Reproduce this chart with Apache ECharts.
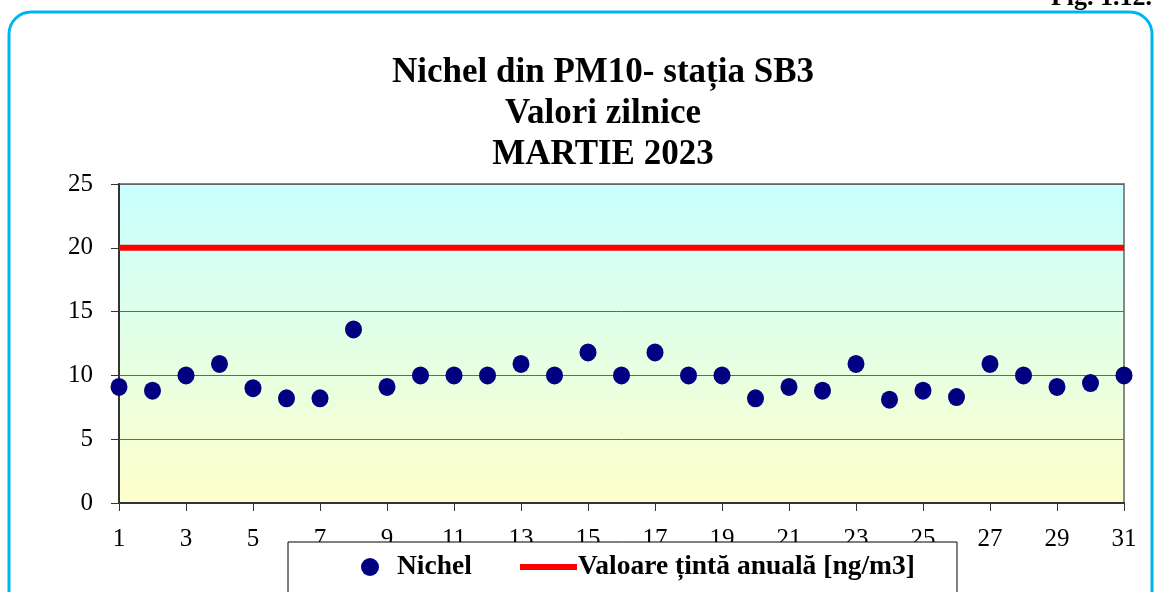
<!DOCTYPE html>
<html>
<head>
<meta charset="utf-8">
<title>Nichel din PM10 - SB3</title>
<script src="https://cdn.jsdelivr.net/npm/echarts@6/dist/echarts.min.js"></script>
<style>
  html, body { margin: 0; padding: 0; background: #fff; }
  #chart { width: 1155px; height: 592px; }
</style>
</head>
<body>
<div id="chart"></div>
<script>
// zilele lunii martie
var days = [];
for (var d = 1; d <= 31; d++) days.push(String(d));

// Nichel, valori zilnice (ng/m3)
var nichel = [9.1, 8.8, 10.0, 10.9, 9.0, 8.2, 8.2, 13.6, 9.1, 10.0,
              10.0, 10.0, 10.9, 10.0, 11.8, 10.0, 11.8, 10.0, 10.0, 8.2,
              9.1, 8.8, 10.9, 8.1, 8.8, 8.3, 10.9, 10.0, 9.1, 9.4, 10.0];

// valoarea tinta anuala
var tinta = days.map(function () { return 20; });

var yTicks = { min: 0, max: 25, interval: 5 };

var font = 'Liberation Serif';

var chart = echarts.init(document.getElementById('chart'));

chart.setOption({
  animation: false,
  backgroundColor: '#fff',
  title: {
    text: 'Nichel din PM10- stația SB3\nValori zilnice\nMARTIE 2023',
    left: 598,
    textAlign: 'center',
    top: 47,
    textStyle: {
      fontFamily: font,
      fontWeight: 'bold',
      fontSize: 35,
      lineHeight: 41,
      color: '#000'
    }
  },
  graphic: [
    {
      type: 'rect',
      shape: { x: 9, y: 12, width: 1143, height: 640, r: 22 },
      style: { fill: 'none', stroke: '#00b4f0', lineWidth: 3 },
      z: 1
    },
    {
      type: 'text',
      x: 1152, y: 11,
      style: {
        text: 'Fig. 1.12.',
        font: 'bold 26px "Liberation Serif"',
        fill: '#000',
        align: 'right',
        verticalAlign: 'bottom'
      },
      z: 1
    },
    {
      type: 'rect',
      shape: { x: 288, y: 542, width: 669, height: 70 },
      style: { fill: '#fff', stroke: '#000', lineWidth: 1 },
      z: 10
    }
  ],
  legend: [
    {
      data: [{ name: 'Nichel', icon: 'circle' }],
      left: 361,
      top: 552,
      padding: 0,
      itemWidth: 18,
      itemHeight: 18,
      z: 20,
      textStyle: {
        fontFamily: font,
        fontWeight: 'bold',
        fontSize: 27.5,
        lineHeight: 30,
        color: '#000',
        padding: [0, 0, 0, 13]
      }
    },
    {
      data: [{ name: 'Valoare țintă anuală [ng/m3]', icon: 'rect' }],
      left: 520,
      top: 552,
      padding: 0,
      itemWidth: 57,
      itemHeight: 6,
      z: 20,
      textStyle: {
        fontFamily: font,
        fontWeight: 'bold',
        fontSize: 27.5,
        lineHeight: 30,
        color: '#000',
        padding: [0, 0, 0, -4]
      }
    }
  ],
  grid: {
    left: 119,
    right: 31,
    top: 184,
    bottom: 89,
    show: true,
    borderColor: '#888',
    borderWidth: 2,
    backgroundColor: new echarts.graphic.LinearGradient(0, 0, 0, 1, [
      { offset: 0, color: '#c8ffff' },
      { offset: 1, color: '#ffffcc' }
    ])
  },
  xAxis: {
    type: 'category',
    data: days,
    boundaryGap: false,
    axisLine: { lineStyle: { color: '#333', width: 2 } },
    axisTick: { show: true, interval: 1, length: 8, lineStyle: { color: '#333' } },
    axisLabel: {
      interval: 1,
      margin: 24,
      fontFamily: font,
      fontSize: 25,
      color: '#000'
    },
    splitLine: { show: false }
  },
  yAxis: {
    type: 'value',
    min: yTicks.min,
    max: yTicks.max,
    interval: yTicks.interval,
    axisLine: { show: true, lineStyle: { color: '#333', width: 2 } },
    axisTick: { show: true, length: 8, lineStyle: { color: '#333' } },
    axisLabel: {
      margin: 26,
      fontFamily: font,
      fontSize: 25,
      color: '#000'
    },
    splitLine: { show: true, lineStyle: { color: '#666', width: 1 } }
  },
  series: [
    {
      name: 'Nichel',
      type: 'scatter',
      data: nichel,
      symbol: 'circle',
      symbolSize: [17, 18],
      clip: false,
      itemStyle: { color: '#000080', opacity: 1 },
      z: 5
    },
    {
      name: 'Valoare țintă anuală [ng/m3]',
      type: 'line',
      data: tinta,
      showSymbol: false,
      symbol: 'none',
      itemStyle: { color: '#ff0000' },
      lineStyle: { color: '#ff0000', width: 6 },
      z: 4
    }
  ]
});
</script>
</body>
</html>
